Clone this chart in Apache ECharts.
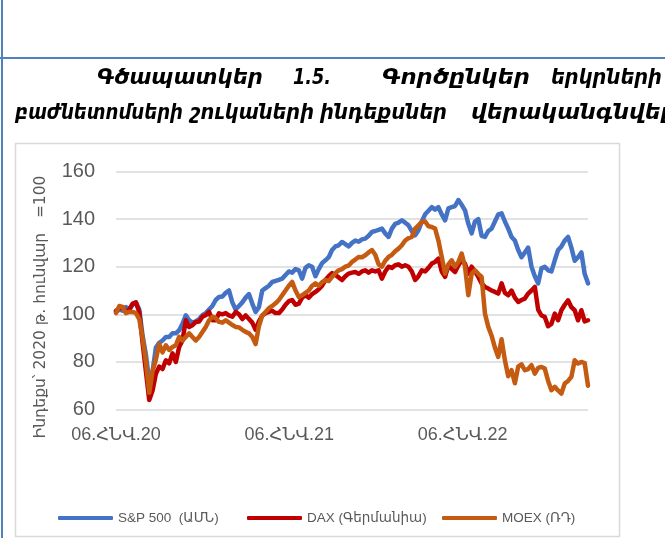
<!DOCTYPE html>
<html>
<head>
<meta charset="utf-8">
<script src="https://cdn.jsdelivr.net/npm/echarts@6/dist/echarts.min.js"></script>
<style>
  html, body { margin: 0; padding: 0; background: #fff; }
  #chart-container { width: 665px; height: 538px; }
</style>
</head>
<body>
<div id="chart-container"></div>
<script>
var dom = document.getElementById('chart-container');
var myChart = echarts.init(dom, null, { renderer: 'canvas' });

// weekly index values, 2020 January = 100 (week 0 = 06.01.2020)
const sp500 = [
  101, 102, 101.5, 103, 102, 104, 105, 102, 91, 83,
  72, 76, 86, 88, 89, 90.5, 90.5, 92, 92, 93.3,
  96, 99.6, 97.5, 96.5, 97, 98, 99.6, 100.5, 102, 103.5,
  106, 107.3, 107.5, 109, 110, 105, 102, 103.5, 105, 107,
  108.5, 104.5, 101, 103, 110, 111, 112, 113.6, 114, 114.5,
  115, 116.5, 118, 117.5, 119, 118.5, 115, 119.5, 120.6, 120,
  116, 119, 121.5, 122.7, 124, 127, 128.5, 129, 130.4, 129.5,
  128.5, 130, 131, 130.5, 131.5, 131.8, 133, 134.6, 135, 135.5,
  136, 134, 132.5, 136, 138, 138.5, 139.5, 138.5, 137.4, 135,
  133.2, 135.3, 139, 142, 143.5, 145, 144, 145, 142, 139.5,
  144.5, 145, 145.5, 148, 146, 143.7, 138, 134, 139, 140,
  133, 132.5, 135, 136, 139, 142, 142.4, 139, 136, 132.5,
  131, 127, 124, 126, 128, 120, 116, 113, 119.3, 120,
  118.5, 118, 122.7, 127, 128.5, 131, 132.5, 128, 122.5, 124,
  126, 117, 113
];
const dax = [
  101.5, 102.5, 103, 101, 102, 104.5, 105, 101, 88, 76,
  64, 68, 75, 78, 77, 80.7, 79.4, 83.6, 80, 86.3,
  89, 97.5, 94.7, 95.4, 96.8, 97, 99, 99.6, 101, 97.5,
  97.5, 100.4, 100, 100.5, 99.5, 99, 101, 100, 98, 99.5,
  98, 96.5, 93.5, 97, 99.5, 100.5, 101, 101.5, 100.5, 100.5,
  102, 104, 105.5, 106, 104, 104.5, 107, 108, 107, 108.5,
  109.4, 110.5, 112, 114.4, 116, 117.3, 116.5, 115.5, 114.4, 116,
  117.1, 117.5, 117.8, 117, 118, 118.5, 117.5, 118.5, 118, 118.5,
  115, 118, 120, 119.5, 120.6, 121, 120, 120.6, 120, 118,
  114.4, 116, 118.5, 118, 119.5, 121.3, 122, 123.4, 118, 115.7,
  120.6, 119, 117.8, 120.6, 122.7, 121.3, 117.1, 120, 118, 115.7,
  113, 111.5, 110.8, 110, 109.4, 108.7, 113, 109, 108, 110,
  107, 105.2, 106, 106.6, 108.7, 110, 111.5, 102, 99.5, 98.9,
  95, 96, 100.3, 97.5, 101.7, 104, 105.9, 103, 101.7, 97.5,
  101.7, 97, 97.5
];
const moex = [
  100.5, 103.5, 103, 100.5, 101, 101, 100.5, 98, 90, 80,
  67, 76, 81, 87.5, 84, 87, 85, 86.3, 87, 90.5,
  89, 90.5, 92, 90.5, 89, 90.5, 92.6, 94.7, 97.5, 99,
  98.4, 96.8, 96.5, 97.5, 96.5, 95.5, 94.7, 94.5, 93.5, 92.6,
  92, 90.5, 87.5, 95, 99.5, 101, 102.6, 103.5, 104.6, 106,
  108, 110, 112, 113.6, 110, 107.3, 108, 109, 110, 112,
  113, 112, 113.5, 114.4, 114, 115.7, 117.3, 118.5, 119, 120,
  120.5, 122, 123, 124.1, 124, 124.8, 126, 127, 125, 121,
  120, 122.5, 124.1, 125, 126.5, 127.6, 129, 131, 132, 132.5,
  136, 137.4, 138.8, 139, 137, 136.7, 136, 131, 124.1, 117.1,
  121, 122.7, 120, 122, 125.5, 120, 108, 117.1, 118.5, 117,
  115.7, 100.3, 94.7, 91, 86, 82.1, 89.5, 80.7, 74, 76.5,
  71, 78, 79, 76.5, 77, 78.6, 75.1, 77.5, 77.9, 77.2,
  72, 68.1, 69.5, 68, 66.7, 70.9, 72, 73.7, 80.7, 79.3,
  80, 79.5, 70
];
const weekDays = sp500.map((v, i) => i * 7);
const xLabels = ['06.ՀՆՎ.20', '06.ՀՆՎ.21', '06.ՀՆՎ.22'];
const seriesNames = ['S&P 500  (ԱՄՆ)', 'DAX (Գերմանիա)', 'MOEX (ՌԴ)'];
const seriesColors = ['#4472C4', '#C00000', '#C55A11'];
const seriesValues = [sp500, dax, moex];

const titleLine1 = ['Գծապատկեր', '1.5.', 'Գործընկեր', 'երկրների'];
const titleLine2 = ['բաժնետոմսերի', 'շուկաների', 'ինդեքսներ', 'վերականգնվել'];
const yName = 'Ինդեքս՝ 2020 թ. հունվար   =100';

const gray = '#595959';
const sansFont = '"Liberation Sans", "DejaVu Sans", sans-serif';

// left edge and width of every word of the justified heading
const line1X = [97, 293, 382, 551];
const line1W = [166, 38, 148, 111];
const line2X = [15, 190, 320, 471];
const line2W = [168, 124, 127, 197];

const titleFont = 'italic bold 22px "DejaVu Sans"';
const measureCtx = document.createElement('canvas').getContext('2d');
measureCtx.font = titleFont;

function titleWords(words, xs, ws, y) {
  return words.map((w, i) => ({
    type: 'text',
    x: xs[i],
    y: y,
    scaleX: ws[i] / measureCtx.measureText(w).width,
    style: {
      text: w,
      fontFamily: '"DejaVu Sans", sans-serif',
      fontSize: 22,
      fontWeight: 'bold',
      fontStyle: 'italic',
      fill: '#000',
      textAlign: 'left',
      textVerticalAlign: 'middle'
    }
  }));
}

var option = {
  animation: false,
  backgroundColor: '#fff',
  color: seriesColors,
  graphic: [
    { type: 'line', shape: { x1: 2, y1: 0, x2: 2, y2: 538 }, style: { stroke: '#4F81BD', lineWidth: 2 } },
    { type: 'line', shape: { x1: 0, y1: 58, x2: 665, y2: 58 }, style: { stroke: '#4F81BD', lineWidth: 2 } },
    { type: 'rect', shape: { x: 15.5, y: 143.5, width: 604, height: 393 }, style: { fill: 'none', stroke: '#D9D9D9', lineWidth: 1.5 } },
    ...titleWords(titleLine1, line1X, line1W, 78),
    ...titleWords(titleLine2, line2X, line2W, 113),
    {
      type: 'text',
      x: 41,
      y: 307,
      rotation: Math.PI / 2,
      style: {
        text: yName,
        fontFamily: '"DejaVu Sans", sans-serif',
        fontSize: 15.5,
        fill: gray,
        textAlign: 'center',
        textVerticalAlign: 'middle'
      }
    }
  ],
  legend: seriesNames.map((name, i) => ({
    data: [name],
    left: [58, 247, 442][i],
    top: 511,
    padding: 0,
    icon: 'roundRect',
    itemWidth: 55,
    itemHeight: 4,
    itemGap: 0,
    textStyle: { color: gray, fontSize: 13.5, fontFamily: sansFont }
  })),
  grid: { left: 116, top: 171.5, width: 472, height: 238 },
  xAxis: {
    type: 'value',
    min: 0,
    max: 994,
    interval: 365,
    axisLine: { show: false },
    axisTick: { show: false },
    splitLine: { show: false },
    axisLabel: {
      color: gray,
      fontSize: 18,
      fontFamily: sansFont,
      margin: 17,
      showMaxLabel: false,
      formatter: function (v) {
        return v % 365 === 0 ? (xLabels[v / 365] || '') : '';
      }
    }
  },
  yAxis: {
    type: 'value',
    min: 60,
    max: 160,
    interval: 20,
    axisLine: { show: false },
    axisTick: { show: false },
    splitLine: { lineStyle: { color: '#D9D9D9', width: 1.5 } },
    axisLabel: { color: gray, fontSize: 20, fontFamily: sansFont, margin: 21 }
  },
  series: seriesValues.map((vals, i) => ({
    name: seriesNames[i],
    type: 'line',
    data: vals.map((v, k) => [weekDays[k], v]),
    showSymbol: false,
    symbol: 'none',
    color: seriesColors[i],
    lineStyle: { color: seriesColors[i], width: 4.5, cap: 'round', join: 'round' },
    z: 2 + i
  }))
};

myChart.setOption(option);
window.addEventListener('resize', myChart.resize);
</script>
</body>
</html>
